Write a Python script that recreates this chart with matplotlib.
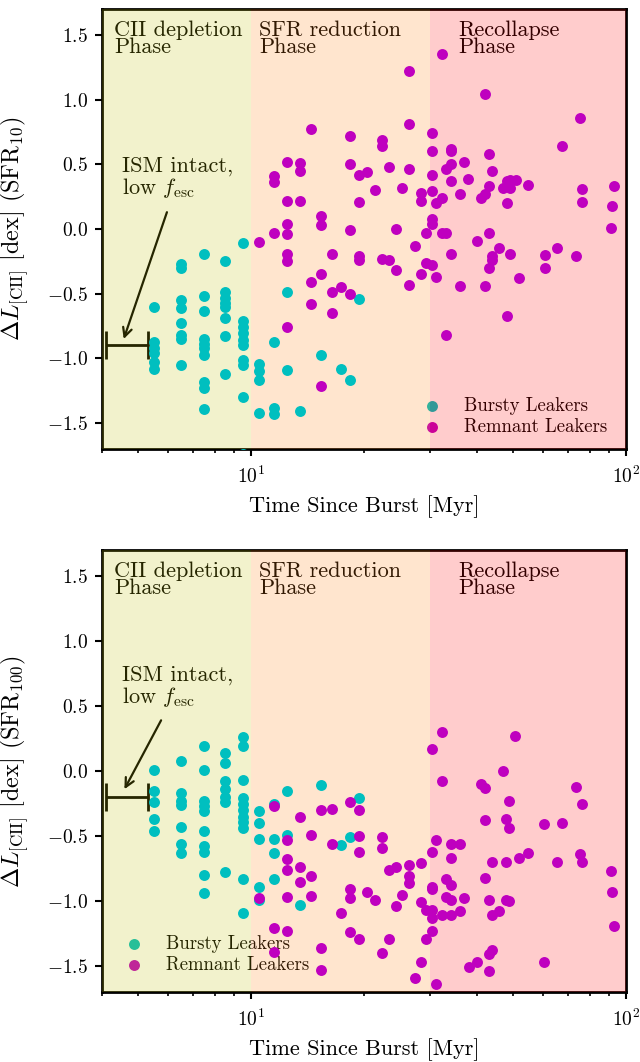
import matplotlib
matplotlib.use('Agg')
import matplotlib.pyplot as plt
from matplotlib.ticker import LogLocator, NullFormatter, MultipleLocator, FixedLocator

plt.rcParams.update({
    'font.family': 'serif',
    'font.serif': ['cmr10'],
    'mathtext.fontset': 'cm',
    'axes.formatter.use_mathtext': True,
    'axes.unicode_minus': True,
})

# ---------------- data: top panel (SFR10) ----------------
top_bursty_t = [5.5, 5.5, 5.5, 5.5, 5.5, 5.5,
                6.5, 6.5, 6.5, 6.5, 6.5, 6.5, 6.5, 6.5,
                7.5, 7.5, 7.5, 7.5, 7.5, 7.5, 7.5, 7.5, 7.5, 7.5,
                8.5, 8.5, 8.5, 8.5, 8.5, 8.5, 8.5, 8.5,
                9.5, 9.5, 9.5, 9.5, 9.5, 9.5, 9.5, 9.5, 9.5, 9.5,
                10.5, 10.5, 10.5, 10.5,
                11.5, 11.5, 11.5,
                12.5, 12.5,
                13.5, 15.4, 17.4, 18.4, 19.4]
top_bursty_dL = [-0.60, -0.87, -0.92, -0.96, -1.03, -1.08,
                 -0.27, -0.30, -0.55, -0.61, -0.73, -0.82, -0.85, -1.05,
                 -0.19, -0.52, -0.63, -0.85, -0.89, -0.92, -0.97, -1.18, -1.23, -1.39,
                 -0.25, -0.49, -0.53, -0.57, -0.60, -0.69, -0.83, -1.12,
                 -0.11, -0.71, -0.76, -0.80, -0.86, -0.90, -1.01, -1.05, -1.30, -1.74,
                 -1.04, -1.10, -1.17, -1.42,
                 -0.87, -1.38, -1.43,
                 -0.49, -1.09,
                 -1.41, -0.97, -1.08, -1.17, -0.54]

top_remnant_t = [10.5,
                 11.5, 11.5, 11.5,
                 12.5, 12.5, 12.5, 12.5, 12.5, 12.5, 12.5,
                 13.5, 13.5, 13.5,
                 14.4, 14.4, 14.4,
                 15.4, 15.4, 15.4, 15.4,
                 16.4, 16.4, 16.4,
                 17.4,
                 18.4, 18.4, 18.4, 18.4,
                 19.4, 19.4, 19.4, 19.4,
                 20.4, 21.4,
                 22.4, 22.4, 22.4,
                 23.3, 23.3,
                 24.3, 24.3,
                 25.3,
                 26.3, 26.3, 26.3, 26.3,
                 27.3,
                 28.3, 28.3, 28.3,
                 29.3, 29.3,
                 30.3, 30.3, 30.3, 30.3, 30.3, 30.3, 30.3,
                 31.2, 31.2,
                 32.2, 32.2, 32.2,
                 33.2, 33.2, 33.2,
                 34.2, 34.2, 34.2, 34.2, 34.2,
                 36.1, 36.1, 37.0, 38.0, 40.0, 41.0,
                 42.0, 42.0, 42.0,
                 43.0, 43.0, 43.0, 43.0,
                 44.0, 44.0, 44.0,
                 45.9, 47.1,
                 48.1, 48.1, 48.1,
                 49.0, 49.0, 49.0,
                 50.9, 51.8, 54.9,
                 60.8, 60.8,
                 65.6, 67.6, 73.4, 75.4,
                 76.5, 76.5,
                 91.0, 92.0, 93.1]
top_remnant_dL = [-0.10,
                  0.41, 0.36, -0.03,
                  0.52, 0.22, 0.04, -0.04, -0.19, -0.25, -0.76,
                  0.51, 0.45, 0.22,
                  0.77, -0.41, -0.58,
                  0.10, 0.03, -0.35, -1.21,
                  -0.19, -0.49, -0.65,
                  -0.45,
                  0.72, 0.50, -0.01, -0.50,
                  0.42, 0.21, -0.21, -0.24,
                  0.44, 0.30,
                  0.69, 0.64, -0.23,
                  0.48, -0.24,
                  0.00, -0.32,
                  0.32,
                  1.22, 0.81, 0.46, -0.43,
                  -0.13,
                  0.28, 0.22, -0.35,
                  -0.03, -0.26,
                  0.74, 0.60, 0.42, 0.29, 0.08, 0.04, -0.28,
                  0.20, -0.37,
                  1.35, 0.24, -0.03,
                  0.46, -0.03, -0.82,
                  0.62, 0.60, 0.50, 0.37, -0.19,
                  0.27, -0.44, 0.52, 0.385, -0.09, 0.24,
                  1.04, 0.27, -0.44,
                  0.58, 0.33, -0.03, -0.30,
                  0.45, -0.21, -0.24,
                  -0.15, 0.32,
                  0.37, 0.20, -0.67,
                  0.38, 0.32, -0.19,
                  0.38, -0.38, 0.34,
                  -0.20, -0.30,
                  -0.15, 0.64, -0.21, 0.86,
                  0.31, 0.21,
                  0.01, 0.18, 0.33]

# ---------------- data: bottom panel (SFR100) ----------------
bot_bursty_t = [5.5, 5.5, 5.5, 5.5, 5.5,
                6.5, 6.5, 6.5, 6.5, 6.5, 6.5, 6.5,
                7.5, 7.5, 7.5, 7.5, 7.5, 7.5, 7.5, 7.5, 7.5, 7.5,
                8.5, 8.5, 8.5, 8.5, 8.5, 8.5, 8.5,
                9.5, 9.5, 9.5, 9.5, 9.5, 9.5, 9.5, 9.5, 9.5, 9.5, 9.5,
                10.5, 10.5, 10.5, 10.5, 10.5,
                11.5, 11.5, 11.5, 11.5,
                12.5, 12.5,
                13.5, 15.4, 17.4, 18.4, 19.4]
bot_bursty_dL = [0.01, -0.15, -0.24, -0.37, -0.46,
                 0.08, -0.17, -0.23, -0.26, -0.43, -0.56, -0.63,
                 0.19, 0.01, -0.23, -0.27, -0.31, -0.46, -0.58, -0.62, -0.80, -0.94,
                 0.14, 0.06, -0.08, -0.14, -0.20, -0.24, -0.78,
                 0.26, 0.19, -0.07, -0.21, -0.25, -0.30, -0.35, -0.39, -0.44, -0.83, -1.09,
                 -0.31, -0.40, -0.52, -0.89, -0.99,
                 -0.25, -0.52, -0.63, -0.83,
                 -0.15, -0.49,
                 -1.03, -0.11, -0.57, -0.51, -0.21]

bot_remnant_t = [10.5,
                 11.5, 11.5, 11.5,
                 12.5, 12.5, 12.5, 12.5, 12.5,
                 13.5, 13.5, 13.5,
                 14.4, 14.4, 14.4,
                 15.4, 15.4, 15.4,
                 16.4, 16.4,
                 17.4,
                 18.4, 18.4, 18.4, 18.4,
                 19.4, 19.4, 19.4, 19.4,
                 20.4, 21.4,
                 22.3, 22.3, 22.3,
                 23.3, 23.3,
                 24.3, 24.3,
                 25.3,
                 26.3, 26.3, 26.3,
                 27.3,
                 28.3, 28.3, 28.3,
                 29.3, 29.3,
                 30.3, 30.3, 30.3, 30.3, 30.3, 30.3, 30.3,
                 31.2, 31.2,
                 32.2, 32.2, 32.2,
                 33.2, 33.2,
                 34.2, 34.2, 34.2, 34.2, 34.2,
                 36.1, 36.1, 37.0, 38.1, 40.0, 41.0,
                 42.0, 42.0, 42.0,
                 43.0, 43.0, 43.0,
                 44.0, 44.0, 44.0,
                 45.9, 46.9,
                 47.8, 47.8, 47.8,
                 48.8, 48.8, 48.8,
                 50.7, 51.7, 54.9,
                 60.5, 60.5,
                 65.6, 67.5, 73.4, 75.4,
                 76.5, 76.5,
                 91.0, 92.0, 93.1]
bot_remnant_dL = [-0.975,
                  -0.27, -1.21, -1.39,
                  -0.53, -0.68, -0.76, -0.97, -1.23,
                  -0.35, -0.74, -0.85,
                  -0.49, -0.81, -0.96,
                  -0.30, -1.36, -1.53,
                  -0.29, -0.56,
                  -1.09,
                  -0.24, -0.91, -0.98, -1.24,
                  -0.30, -0.50, -0.62, -1.29,
                  -0.93, -0.99,
                  -0.51, -0.59, -1.40,
                  -0.76, -1.29,
                  -0.74, -1.04,
                  -0.95,
                  -0.72, -0.81, -0.86,
                  -1.59,
                  -0.71, -1.01, -1.47,
                  -1.07, -1.29,
                  0.17, -0.62, -0.89, -0.91, -1.07, -1.13, -1.23,
                  -0.53, -1.64,
                  0.30, -0.08, -1.11,
                  -0.83, -0.97,
                  -0.56, -0.67, -0.88, -0.99, -1.11,
                  -0.56, -1.08, -0.98, -1.51, -1.47, -0.10,
                  -0.13, -0.38, -0.82,
                  -0.99, -1.41, -1.54,
                  -0.70, -1.11, -1.38,
                  -1.08, 0.00,
                  -0.37, -0.70, -0.99,
                  -0.23, -0.44, -1.00,
                  0.27, -0.67, -0.63,
                  -0.41, -1.47,
                  -0.70, -0.40, -0.12, -0.64,
                  -0.25, -0.70,
                  -0.77, -0.93, -1.19]

phase_edges = [4, 10, 30, 100]
phase_colors = ['y', 'C1', 'r']
phase_labels = ['CII depletion\nPhase', 'SFR reduction\nPhase', 'Recollapse\nPhase']
phase_label_x = [4.3, 10.5, 35.7]

ism_bar_y = [-0.9, -0.2]
ism_text_y = [0.56, 0.81]
ism_arrow_start = [(5.96, 0.13), (5.75, 0.39)]
ism_arrow_end = [(4.57, -0.85), (4.59, -0.14)]

ylabels = [r'$\Delta L_{\rm [CII]}$ [dex] (SFR$_{10}$)',
           r'$\Delta L_{\rm [CII]}$ [dex] (SFR$_{100}$)']

fig = plt.figure(figsize=(6.4, 10.62), dpi=100)
ax1 = fig.add_axes([0.1594, 0.5772, 0.8187, 0.4143])
ax2 = fig.add_axes([0.1594, 0.0659, 0.8187, 0.4162])

panels = [
    (ax1, top_bursty_t, top_bursty_dL, top_remnant_t, top_remnant_dL,
     dict(loc='lower right', bbox_to_anchor=(0.99, 0.0))),
    (ax2, bot_bursty_t, bot_bursty_dL, bot_remnant_t, bot_remnant_dL,
     dict(loc='lower left', bbox_to_anchor=(0.0, 0.012))),
]

for i, (ax, bt, bd, rt, rd, legkw) in enumerate(panels):
    ax.set_xscale('log')
    ax.set_xlim(4, 100)
    ax.set_ylim(-1.7, 1.7)
    for j in range(3):
        ax.axvspan(phase_edges[j], phase_edges[j + 1], color=phase_colors[j],
                   alpha=0.2, lw=0, zorder=6)
        ax.text(phase_label_x[j], 1.615, phase_labels[j], fontsize=16,
                va='top', ha='left', linespacing=0.85, zorder=3)
    ax.scatter(bt, bd, s=62, c='c', linewidths=0, zorder=7, label='Bursty Leakers')
    ax.scatter(rt, rd, s=62, c='m', linewidths=0, zorder=7, label='Remnant Leakers')

    ax.errorbar([4.7], [ism_bar_y[i]], xerr=[[0.6], [0.6]], fmt='none', ecolor='k',
                elinewidth=2, capsize=10, capthick=2, zorder=3)
    ax.text(4.52, ism_text_y[i], 'ISM intact,\nlow $f_{\\rm esc}$', fontsize=16,
            va='top', ha='left', linespacing=1.0, zorder=3)
    ax.annotate('', xy=ism_arrow_end[i], xytext=ism_arrow_start[i],
                arrowprops=dict(arrowstyle='->', lw=1.6, color='k', mutation_scale=16,
                                shrinkA=0, shrinkB=0), zorder=3)

    leg = ax.legend(frameon=False, fontsize=13.5, scatterpoints=1,
                    handletextpad=0.7, borderaxespad=0.3, labelspacing=0.15, **legkw)
    leg.set_zorder(5)

    ax.yaxis.set_major_locator(MultipleLocator(0.5))
    ax.xaxis.set_major_locator(FixedLocator([10, 100]))
    ax.xaxis.set_minor_locator(LogLocator(base=10, subs=range(2, 10)))
    ax.xaxis.set_minor_formatter(NullFormatter())
    ax.tick_params(which='major', length=5, width=1.5, labelsize=14, direction='out', pad=5)
    ax.tick_params(axis='x', which='major', pad=7)
    ax.tick_params(which='minor', length=3, width=1.2, direction='out')
    for sp in ax.spines.values():
        sp.set_linewidth(2)
        sp.set_zorder(2.5)
    ax.set_xlabel('Time Since Burst [Myr]', fontsize=16, labelpad=6)
    ax.set_ylabel(ylabels[i], fontsize=17.5)
    ax.yaxis.set_label_coords(-0.135, 0.5)

fig.savefig('out.png', dpi=100)
